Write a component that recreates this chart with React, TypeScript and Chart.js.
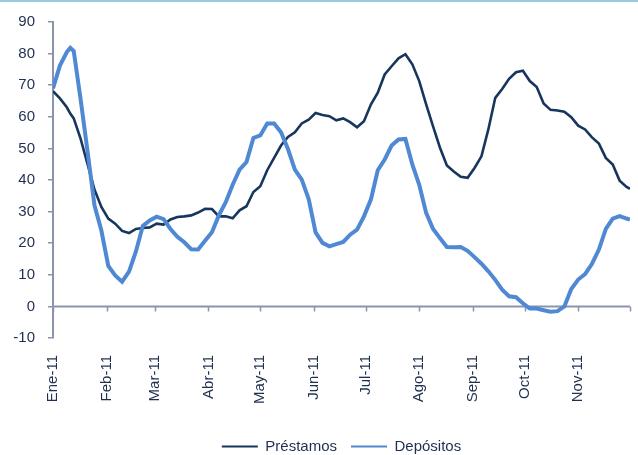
import React, { useEffect, useRef } from 'react';
import { Chart, registerables } from 'chart.js';

Chart.register(...registerables);

// Month labels and their start (day of year 2011, 0 = 1 Jan)
const monthLabels = ['Ene-11', 'Feb-11', 'Mar-11', 'Abr-11', 'May-11', 'Jun-11', 'Jul-11', 'Ago-11', 'Sep-11', 'Oct-11', 'Nov-11'];
const monthStarts = [0, 31, 59, 90, 120, 151, 181, 212, 243, 273, 304, 334];
const yTicks = [-10, 0, 10, 20, 30, 40, 50, 60, 70, 80, 90];

// Observation days (day of year)
const days = [0, 4, 8, 10, 12, 16, 20, 24, 28, 32, 36, 40, 44, 48, 52, 56, 60, 64, 68, 72, 76, 80, 84, 88, 92, 96, 100, 104, 108, 112, 116, 120, 124, 128, 132, 136, 140, 144, 148, 152, 156, 160, 164, 168, 172, 176, 180, 184, 188, 192, 196, 200, 204, 208, 212, 216, 220, 224, 228, 232, 236, 240, 244, 248, 252, 256, 260, 264, 268, 272, 276, 280, 284, 288, 292, 296, 300, 304, 308, 312, 316, 320, 324, 328, 332, 334];

const prestamos = [
  68.1, 65.8, 63.0, 61.0, 59.5, 53.0, 45.0, 37.0, 31.5, 27.8, 26.2,
  23.9, 23.2, 24.5, 24.8, 25.0, 26.2, 25.9, 27.5, 28.3, 28.5,
  28.8, 29.7, 30.9, 30.8, 28.5, 28.5, 27.9, 30.4, 31.7, 36.2,
  38.0, 43.1, 47.0, 50.9, 53.6, 55.1, 57.9, 59.1, 61.2, 60.6,
  60.2, 58.9, 59.5, 58.3, 56.7, 58.6, 63.9, 67.6, 73.4, 76.0,
  78.5, 79.8, 76.6, 71.3, 63.9, 57.0, 50.2, 44.6, 42.7, 41.0,
  40.7, 43.8, 47.5, 56.0, 66.0, 68.8, 72.0, 74.1, 74.6, 71.3,
  69.4, 64.2, 62.2, 62.0, 61.6, 59.9, 57.2, 56.0, 53.5, 51.5,
  47.0, 44.9, 39.8, 37.8, 37.2,
];

const depositos = [
  69.0, 76.2, 80.5, 81.8, 80.8, 65.5, 49.0, 32.0, 24.0, 12.8, 9.8,
  7.8, 11.0, 17.4, 25.5, 27.2, 28.4, 27.6, 24.5, 22.0, 20.3,
  18.1, 18.0, 20.8, 23.5, 28.8, 33.0, 38.5, 43.3, 45.7, 53.3,
  54.1, 57.9, 57.9, 55.1, 49.8, 43.3, 40.1, 34.0, 23.4, 20.1,
  19.0, 19.7, 20.4, 22.7, 24.3, 28.5, 33.8, 43.1, 46.5, 50.9,
  52.8, 53.0, 44.9, 38.5, 29.6, 24.5, 21.6, 18.8, 18.7, 18.8,
  17.6, 15.6, 13.5, 11.1, 8.4, 5.3, 3.2, 2.9, 1.0, -0.7,
  -0.7, -1.2, -1.7, -1.5, 0.0, 5.5, 8.5, 10.2, 13.5, 18.0,
  24.5, 27.8, 28.6, 27.8, 27.5,
];

const AXIS = '#8a94aa';
const TEXT = '#1f2f4f';
const DARK = '#17365d';
const LIGHT = '#4f88d3';
const FONT = { family: '"Liberation Sans", Arial, sans-serif', size: 15 };

const zeroLinePlugin = {
  id: 'zeroLine',
  beforeDatasetsDraw(chart: any) {
    const { ctx, chartArea, scales } = chart;
    const x = scales.x;
    const y = scales.y;
    const y0 = Math.round(y.getPixelForValue(0)) + 0.5;
    ctx.save();
    ctx.strokeStyle = AXIS;
    ctx.lineWidth = 2;
    ctx.beginPath();
    ctx.moveTo(chartArea.left, y0);
    ctx.lineTo(chartArea.right, y0);
    ctx.stroke();
    ctx.lineWidth = 1.5;
    ctx.beginPath();
    monthStarts.forEach((v) => {
      const px = Math.round(x.getPixelForValue(v)) + 0.5;
      ctx.moveTo(px, y0);
      ctx.lineTo(px, y0 + 5);
    });
    ctx.stroke();
    ctx.restore();
  },
};

export default function App() {
  const ref = useRef<HTMLCanvasElement | null>(null);

  useEffect(() => {
    if (!ref.current) return;
    const chart = new Chart(ref.current, {
      type: 'line',
      data: {
        datasets: [
          {
            label: 'Préstamos',
            data: days.map((d, i) => ({ x: d, y: prestamos[i] })),
            borderColor: DARK,
            backgroundColor: DARK,
            borderWidth: 2.6,
            pointRadius: 0,
            tension: 0,
            order: 1,
          },
          {
            label: 'Depósitos',
            data: days.map((d, i) => ({ x: d, y: depositos[i] })),
            borderColor: LIGHT,
            backgroundColor: LIGHT,
            borderWidth: 4,
            pointRadius: 0,
            tension: 0,
            order: 0,
          },
        ],
      },
      options: {
        responsive: false,
        animation: false,
        devicePixelRatio: 1,
        layout: { padding: { top: 21, right: 8, left: 0, bottom: -9 } },
        plugins: {
          tooltip: { enabled: false },
          legend: {
            position: 'bottom',
            fullSize: false,
            labels: {
              boxWidth: 36,
              boxHeight: 2,
              padding: 14,
              color: TEXT,
              font: FONT,
              sort: (a: any, b: any) => a.datasetIndex - b.datasetIndex,
              generateLabels: (c: any) =>
                Chart.defaults.plugins.legend.labels
                  .generateLabels(c)
                  .map((l: any) => ({ ...l, lineWidth: 0 })),
            },
          },
        },
        scales: {
          x: {
            type: 'linear',
            min: 0,
            max: 334,
            afterBuildTicks: (s: any) => {
              s.ticks = monthStarts.map((v) => ({ value: v }));
            },
            afterFit: (s: any) => {
              s.height = 87;
              s.paddingLeft = 0;
              s.paddingRight = 0;
            },
            grid: { display: false, drawTicks: false },
            border: { display: false },
            ticks: {
              autoSkip: false,
              minRotation: 90,
              maxRotation: 90,
              padding: 17,
              color: TEXT,
              font: FONT,
              callback: (v: any) => {
                const i = monthStarts.indexOf(Number(v));
                return i >= 0 && i < monthLabels.length ? monthLabels[i] : '';
              },
            },
          },
          y: {
            type: 'linear',
            min: -10,
            max: 90,
            afterBuildTicks: (s: any) => {
              s.ticks = yTicks.map((v) => ({ value: v }));
            },
            afterFit: (s: any) => {
              s.width = 53;
            },
            grid: { drawOnChartArea: false, drawTicks: true, tickLength: 5, color: AXIS, lineWidth: 1.5 },
            border: { display: true, color: AXIS, width: 2 },
            ticks: { padding: 13, color: TEXT, font: FONT },
          },
        },
      },
      plugins: [zeroLinePlugin],
    });
    return () => chart.destroy();
  }, []);

  return (
    <div style={{ position: 'fixed', left: 0, top: 0, width: 638, height: 455, background: '#fff', overflow: 'hidden' }}>
      <canvas ref={ref} width={638} height={455} style={{ position: 'absolute', left: 0, top: 0, width: 638, height: 455 }} />
      <div style={{ position: 'absolute', left: 0, top: 0, width: 638, height: 2, background: '#9dc6df' }} />
    </div>
  );
}
